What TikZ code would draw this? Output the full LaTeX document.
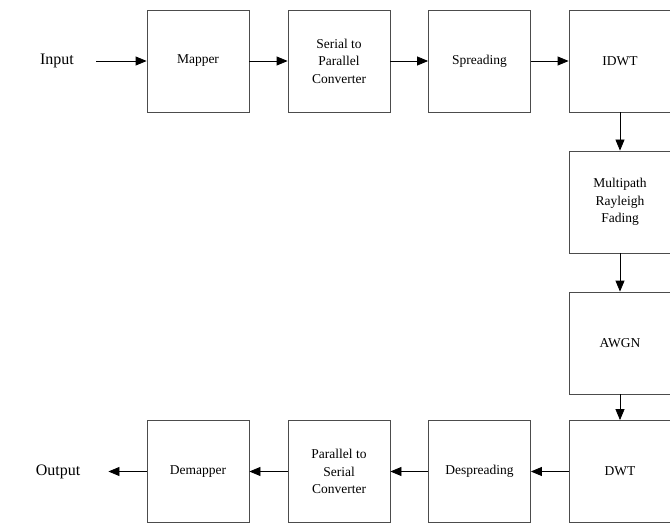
\documentclass[tikz,border=0pt]{standalone}
\usepackage{fontspec}
\setmainfont{Liberation Serif}
\usetikzlibrary{arrows.meta}

\begin{document}
\begin{tikzpicture}[x=1pt,y=-1pt,
    block/.style={draw=black!70,line width=0.8pt,minimum width=102pt,minimum height=102pt,
        inner sep=0pt,align=center,font=\fontsize{13.5}{17.5}\selectfont},
    label/.style={font=\fontsize{16}{19}\selectfont,inner sep=0pt},
    flow/.style={-{Triangle[length=11pt,width=9pt]},line width=0.8pt}]

\useasboundingbox (0,0) rectangle (670,524);

% Transmitter chain
\node[label] (in) at (57,61) {Input};
\node[block] (map) at (198,61) {Mapper};
\node[block] (sp) at (339,61) {Serial to\\Parallel\\Converter};
\node[block] (spr) at (479.5,61) {Spreading};
\node[block] (idwt) at (620,61) {IDWT};

% Channel
\node[block] (ray) at (620,202) {Multipath\\Rayleigh\\Fading};
\node[block] (awgn) at (620,343) {AWGN};

% Receiver chain
\node[block] (dwt) at (620,471.5) {DWT};
\node[block] (despr) at (479.5,471.5) {Despreading};
\node[block] (ps) at (339,471.5) {Parallel to\\Serial\\Converter};
\node[block] (demap) at (198,471.5) {Demapper};
\node[label] (out) at (58,471.5) {Output};

% Arrows
\draw[flow,shorten <=22pt] (in) -- (map);
\draw[flow] (map) -- (sp);
\draw[flow] (sp) -- (spr);
\draw[flow] (spr) -- (idwt);
\draw[flow] (idwt) -- (ray);
\draw[flow] (ray) -- (awgn);
\draw[flow] (awgn) -- (dwt);
\draw[flow] (dwt) -- (despr);
\draw[flow] (despr) -- (ps);
\draw[flow] (ps) -- (demap);
\draw[flow,shorten >=28pt] (demap) -- (out);

\end{tikzpicture}
\end{document}
